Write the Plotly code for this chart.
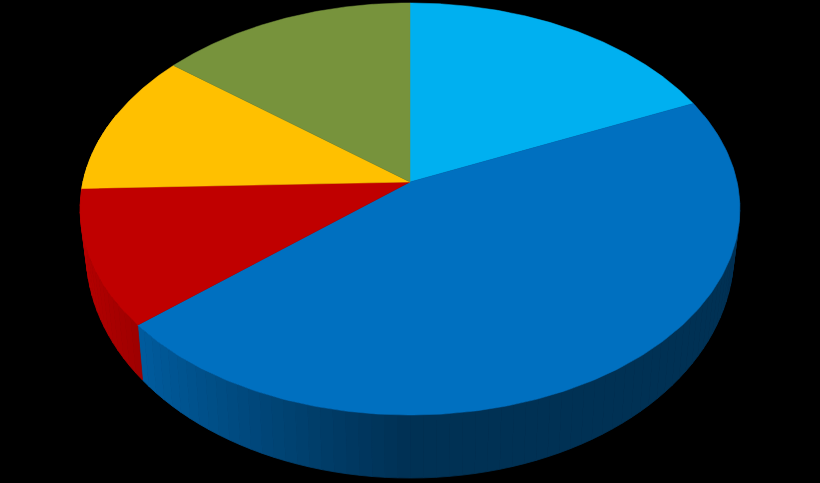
import numpy as np
import plotly.graph_objects as go

# slice shares, clockwise from 12 o'clock
values = [18.3, 45.5, 10.7, 11.2, 14.3]
colors = ["#00B0F0", "#0070C0", "#C00000", "#FFC000", "#77933C"]

# projection of the tilted pie (pixels)
CX, CY = 410, 182
A, B = 327, 202.5
K = 0.131
DROP0, DROP1 = 40, 23
BOT_SCALE = 0.982


def top_pt(deg):
    t = np.radians(deg)
    u, v = np.sin(t), np.cos(t)
    w = 1 + K * v
    return CX + A * u / w, CY - B * v / w


def bottom_pt(deg):
    x, y = top_pt(deg)
    v = np.cos(np.radians(deg))
    return CX + (x - CX) * BOT_SCALE, y + DROP0 - DROP1 * v


def shade(hexcol, f):
    r, g, b = (int(hexcol[i:i + 2], 16) for i in (1, 3, 5))
    return "rgb(%d,%d,%d)" % (r * f, g * f, b * f)


bounds = np.concatenate([[0], np.cumsum(values) / sum(values) * 360])

fig = go.Figure()

# side wall, drawn in thin strips so it can be shaded
step = 2.0
for i, col in enumerate(colors):
    a0, a1 = bounds[i], bounds[i + 1]
    edges = np.append(np.arange(a0, a1, step), a1)
    for ta, tb in zip(edges[:-1], edges[1:]):
        mid = (ta + tb) / 2
        if np.cos(np.radians(mid)) > 0.35:
            continue
        u = np.sin(np.radians(mid))
        f = 0.44 + 0.52 * max(0.0, -u) ** 1.1
        c = shade(col, f)
        p1, p2 = top_pt(ta), top_pt(tb)
        p3, p4 = bottom_pt(tb), bottom_pt(ta)
        fig.add_trace(go.Scatter(
            x=[p1[0], p2[0], p3[0], p4[0], p1[0]],
            y=[p1[1], p2[1], p3[1], p4[1], p1[1]],
            mode="lines", fill="toself", fillcolor=c,
            line=dict(color=c, width=0.8), hoverinfo="skip"))

# top faces
for i, col in enumerate(colors):
    arc = np.linspace(bounds[i], bounds[i + 1], 200)
    xs, ys = top_pt(arc)
    fig.add_trace(go.Scatter(
        x=np.concatenate([[CX], xs, [CX]]),
        y=np.concatenate([[CY], ys, [CY]]),
        mode="lines", fill="toself", fillcolor=col,
        line=dict(color=col, width=0.5), hoverinfo="skip"))

fig.update_layout(
    width=820, height=483,
    margin=dict(l=0, r=0, t=0, b=0),
    paper_bgcolor="black", plot_bgcolor="black",
    showlegend=False,
    xaxis=dict(range=[0, 820], visible=False),
    yaxis=dict(range=[483, 0], visible=False),
)

# drop the browser's default page margin so the chart fills the window
fig.write_html(
    "out.html",
    config={"displayModeBar": False},
    post_script="document.body.style.margin='0';"
                "document.body.style.background='black';"
                "document.body.style.overflow='hidden';",
)
